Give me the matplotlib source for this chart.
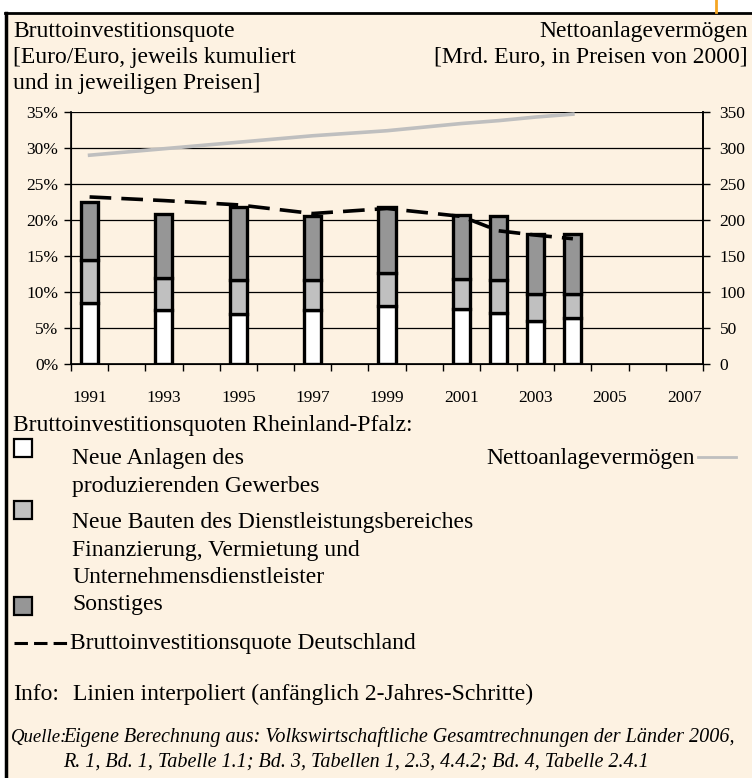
import numpy as np
import matplotlib
matplotlib.use("Agg")
from matplotlib import pyplot as plt
from matplotlib.patches import Rectangle
from matplotlib.lines import Line2D

plt.rcParams['font.family'] = ['Liberation Serif', 'DejaVu Serif']

# data
years = [1991, 1993, 1995, 1997, 1999, 2001, 2002, 2003, 2004]
anlagen = [8.5, 7.5, 7.0, 7.5, 8.0, 7.7, 7.1, 6.0, 6.4]          # Neue Anlagen prod. Gewerbe
bauten = [5.9, 4.5, 4.6, 4.1, 4.6, 4.1, 4.5, 3.7, 3.3]           # Neue Bauten Dienstleistung
sonstiges = [8.1, 8.9, 10.2, 9.0, 9.2, 8.9, 8.9, 8.4, 8.4]       # Sonstiges
quote_de = [23.2, 22.7, 22.1, 20.9, 21.6, 20.5, 18.5, 17.9, 17.4]
netto = [290, 299, 308, 317, 324, 334, 338, 343, 347]

yticks = [0, 5, 10, 15, 20, 25, 30, 35]
ytick_labels = ['0%', '5%', '10%', '15%', '20%', '25%', '30%', '35%']
y2ticks = [0, 50, 100, 150, 200, 250, 300, 350]
xlabel_years = [1991, 1993, 1995, 1997, 1999, 2001, 2003, 2005, 2007]

bg = '#fdf2e2'
c_white = '#ffffff'
c_light = '#c0c0c0'
c_dark = '#969696'
c_line = '#bfbfbf'

fig = plt.figure(figsize=(7.52, 7.78), dpi=100)
W, H = 752, 778

def fx(px):
    return px / W

def fy(py):
    return 1 - py / H

# cream panel with black top/left frame
fig.patches.append(Rectangle((fx(6), 0), 1, fy(13), transform=fig.transFigure,
                             facecolor=bg, edgecolor='none', zorder=-5))
fig.add_artist(Line2D([fx(5), 1], [fy(13), fy(13)], color='black', lw=2))
fig.add_artist(Line2D([fx(6), fx(6)], [0, fy(13)], color='black', lw=2.5))
fig.add_artist(Line2D([fx(716), fx(716)], [fy(0), fy(12)], color='#f5a623', lw=2))

ax = fig.add_axes([fx(71), fy(364), fx(703) - fx(71), fy(112) - fy(364)])
ax.set_facecolor('none')

bw = 0.46
b1 = np.array(anlagen)
b2 = np.array(bauten)
b3 = np.array(sonstiges)
ax.bar(years, b1, bw, color=c_white, edgecolor='black', lw=2.4, zorder=3)
ax.bar(years, b2, bw, bottom=b1, color=c_light, edgecolor='black', lw=2.4, zorder=3)
ax.bar(years, b3, bw, bottom=b1 + b2, color=c_dark, edgecolor='black', lw=2.4, zorder=3)
ax.plot(years, quote_de, color='black', lw=2.6, dashes=(6, 2.8), zorder=4)

ax.set_xlim(1990.5, 2007.5)
ax.set_ylim(0, 35)
ax.set_yticks(yticks)
ax.set_yticklabels(ytick_labels)
ax.set_xticks(np.arange(1990.5, 2008, 1))
ax.set_xticklabels([])
ax.set_xticks(xlabel_years, minor=True)
ax.set_xticklabels([str(y) for y in xlabel_years], minor=True)
ax.tick_params(axis='x', which='major', length=5, width=1, direction='out')
ax.tick_params(axis='x', which='minor', length=0, pad=19, labelsize=12.5)
ax.tick_params(axis='y', length=5, width=1, direction='out', labelsize=12.5, pad=4)
ax.grid(axis='y', color='black', lw=0.9, zorder=1)
ax.spines['top'].set_visible(False)
for s in ['left', 'bottom', 'right']:
    ax.spines[s].set_linewidth(1.2)

ax2 = ax.twinx()
ax2.plot(years, netto, color=c_line, lw=2.6, zorder=2)
ax2.set_ylim(0, 350)
ax2.set_yticks(y2ticks)
ax2.tick_params(axis='y', length=5, width=1, direction='out', labelsize=12.5, pad=7)
ax2.spines['top'].set_visible(False)
ax2.spines['right'].set_linewidth(1.2)

fs = 17
fsi = 14.5
bl = dict(fontsize=fs, va='baseline')

# header texts
fig.text(fx(13), fy(37), 'Bruttoinvestitionsquote', **bl)
fig.text(fx(13), fy(63), '[Euro/Euro, jeweils kumuliert', **bl)
fig.text(fx(13), fy(89), 'und in jeweiligen Preisen]', **bl)
fig.text(fx(748), fy(37), 'Nettoanlagevermögen', ha='right', **bl)
fig.text(fx(748), fy(63), '[Mrd. Euro, in Preisen von 2000]', ha='right', **bl)

# legend block
fig.text(fx(13), fy(431), 'Bruttoinvestitionsquoten Rheinland-Pfalz:', **bl)
for top, col in [(439, c_white), (501, c_light), (597, c_dark)]:
    fig.patches.append(Rectangle((fx(14), fy(top + 18)), fx(18), fy(top) - fy(top + 18),
                                 transform=fig.transFigure, facecolor=col,
                                 edgecolor='black', lw=1.6, zorder=3))
fig.text(fx(72), fy(464), 'Neue Anlagen des', **bl)
fig.text(fx(72), fy(492), 'produzierenden Gewerbes', **bl)
fig.text(fx(72), fy(528), 'Neue Bauten des Dienstleistungsbereiches', **bl)
fig.text(fx(72), fy(556), 'Finanzierung, Vermietung und', **bl)
fig.text(fx(72), fy(583), 'Unternehmensdienstleister', **bl)
fig.text(fx(72), fy(610), 'Sonstiges', **bl)

fig.text(fx(695), fy(464), 'Nettoanlagevermögen', ha='right', **bl)
fig.add_artist(Line2D([fx(698), fx(736)], [fy(457), fy(457)], color=c_line, lw=2))

fig.add_artist(Line2D([fx(14), fx(67)], [fy(643), fy(643)], color='black', lw=2.2,
                      dashes=(4.4, 2.0)))
fig.text(fx(70), fy(649), 'Bruttoinvestitionsquote Deutschland', **bl)

fig.text(fx(13), fy(700), 'Info:', **bl)
fig.text(fx(73), fy(700), 'Linien interpoliert (anfänglich 2-Jahres-Schritte)', **bl)

fig.text(fx(11), fy(742), 'Quelle:', fontsize=13.5, va='baseline', style='italic')
fig.text(fx(63), fy(742), 'Eigene Berechnung aus: Volkswirtschaftliche Gesamtrechnungen der Länder 2006,',
         fontsize=fsi, va='baseline', style='italic')
fig.text(fx(63), fy(767), 'R. 1, Bd. 1, Tabelle 1.1; Bd. 3, Tabellen 1, 2.3, 4.4.2; Bd. 4, Tabelle 2.4.1',
         fontsize=fsi, va='baseline', style='italic')

fig.savefig('out.png', dpi=100, facecolor='white')
